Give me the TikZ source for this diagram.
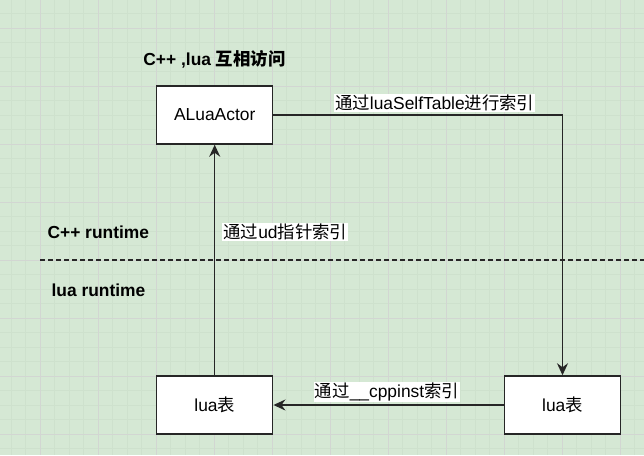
\documentclass[tikz,border=0pt]{standalone}
\usepackage{fontspec}
\setmainfont{Liberation Sans}
\newfontfamily\cjk{Noto Sans CJK SC}
\usetikzlibrary{arrows.meta}
\newcommand\zh[1]{{\cjk #1}}
\definecolor{bg}{HTML}{D5E8D4}
\definecolor{minorgrid}{HTML}{CEE1CD}
\definecolor{majorgrid}{HTML}{D2D6D2}
\tikzset{
  box/.style={draw=black!85, line width=1.5pt, fill=white, minimum width=116pt, minimum height=58pt, inner sep=0pt, font=\fontsize{17.4}{19}\selectfont},
  conn/.style={line width=1.5pt, draw=black!85, -{Stealth[length=12pt,width=11pt,inset=4pt]}},
  elabel/.style={fill=white, inner sep=1pt, font=\fontsize{17.4}{19}\selectfont},
  tlabel/.style={font=\bfseries\fontsize{17.4}{19}\selectfont, inner sep=0pt},
  gridminor/.style={draw=minorgrid, line width=0.6pt},
  gridmajor/.style={draw=majorgrid, line width=0.9pt},
}
\begin{document}
\begin{tikzpicture}[x=1pt,y=-1pt]
\fill[bg] (0,0) rectangle (644,455);
\useasboundingbox (0,0) rectangle (644,455);
% grid
\foreach \i in {0,...,44} {\draw[gridminor] ({11+14.5*\i},0) -- ({11+14.5*\i},455);}
\foreach \i in {0,...,31} {\draw[gridminor] (0,{-1+14.5*\i}) -- (644,{-1+14.5*\i});}
\foreach \i in {0,...,10} {\draw[gridmajor] ({40+58*\i},0) -- ({40+58*\i},455);}
\foreach \i in {0,...,7} {\draw[gridmajor] (0,{28+58*\i}) -- (644,{28+58*\i});}
% nodes
\node[tlabel] (title) at (214.5,59) {C++ ,lua \zh{互相访问}};
\node[tlabel] (cpprt) at (98.3,232.3) {C++ runtime};
\node[tlabel] (luart) at (98.5,290) {lua runtime};
\node[box] (A) at (214.7,115) {ALuaActor};
\node[box] (L) at (214.7,405) {lua\zh{表}};
\node[box] (R) at (562.5,405) {lua\zh{表}};
% separator
\draw[line width=1.5pt, draw=black!85, dash pattern=on 5pt off 3pt] (40,260) -- (644,260);
% connectors
\draw[conn] (A.east) -| node[elabel, pos=0.279, above=2pt] {\zh{通过}luaSelfTable\zh{进行索引}} (R.north);
\draw[conn] (L.north) -- node[elabel, pos=0.62, anchor=west, xshift=7pt] {\zh{通过}ud\zh{指针索引}} (A.south);
\draw[conn] (R.west) -- node[elabel, pos=0.507, above=2pt] {\zh{通过}\_\_cppinst\zh{索引}} (L.east);
\end{tikzpicture}
\end{document}
